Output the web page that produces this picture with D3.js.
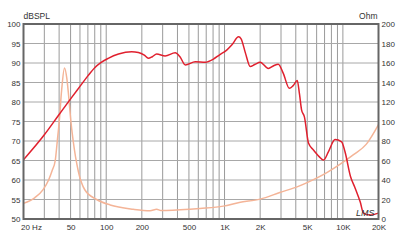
<!DOCTYPE html>
<html>
<head>
<meta charset="utf-8">
<script src="https://cdn.jsdelivr.net/npm/d3@7"></script>
<style>
  body { margin: 0; background: #fff; }
  svg { display: block; font-family: "Liberation Sans", Arial, sans-serif; }
  .tick text { fill: #333; font-size: 8px; }
</style>
</head>
<body>
<div id="chart"></div>
<script>
// SPL response (Hz, dB)
const splFreq = [20, 30, 40, 50, 60, 70, 80, 90, 104, 127, 164, 187, 210, 227, 245, 267, 315, 383, 420, 466, 566, 687, 805, 908, 1043, 1150, 1315, 1380, 1500, 1647, 1800, 2000, 2344, 2600, 2843, 3130, 3530, 3800, 4114, 4300, 4475, 4730, 5130, 5640, 6300, 6860, 7560, 8580, 9760, 10410, 11600, 12700, 14000, 14950, 17000, 20000];
const splDb = [65.2, 71.6, 76.8, 80.8, 84.0, 86.7, 88.8, 90.1, 91.2, 92.3, 92.9, 92.7, 92.0, 91.2, 91.6, 92.3, 91.8, 92.6, 91.6, 89.5, 90.3, 90.2, 91.0, 92.1, 93.3, 94.6, 96.7, 96.2, 92.6, 89.1, 89.6, 90.2, 88.6, 89.3, 89.7, 87.4, 83.5, 84.2, 85.5, 82.0, 78.0, 76.2, 69.4, 67.7, 66.0, 65.1, 67.3, 70.4, 69.8, 67.3, 60.9, 57.9, 54.4, 51.5, 51.0, 51.5];

// impedance (Hz, Ohm)
const impFreq = [20, 25, 29.4, 32.6, 35, 37.1, 38.6, 40.1, 42, 44.4, 46.5, 48, 50.3, 52.6, 58.1, 65.9, 83, 108, 169, 235, 267, 290, 510, 620, 977, 1330, 2000, 2930, 4300, 5200, 7320, 9430, 12300, 15800, 20000];
const impOhm = [16.0, 22.0, 30.4, 40, 50, 60, 80, 100, 132, 155, 144, 128, 100, 80, 49, 30, 20, 14.4, 10, 8.4, 10, 8.6, 10, 10.8, 13.2, 17.0, 20.4, 27.2, 34, 38.4, 47.6, 56.0, 66.0, 76.8, 96.8];

const dbTicks = [50, 55, 60, 65, 70, 75, 80, 85, 90, 95, 100];
const ohmTicks = [0, 20, 40, 60, 80, 100, 120, 140, 160, 180, 200];
const freqTicks = [20, 50, 100, 200, 500, 1000, 2000, 5000, 10000, 20000];
const freqLabels = ["20 Hz", "50", "100", "200", "500", "1K", "2K", "5K", "10K", "20K"];

const W = 400, H = 242;
const pLeft = 23.5, pRight = 378.5, pTop = 24, pBottom = 219;

const svg = d3.select("#chart").append("svg").attr("width", W).attr("height", H);

const x = d3.scaleLog().domain([20, 20000]).range([pLeft, pRight]);
const y = d3.scaleLinear().domain([50, 100]).range([pBottom, pTop]);
const yR = d3.scaleLinear().domain([0, 200]).range([pBottom, pTop]);

// vertical grid: every 1-9 step in each decade
let gridFreqs = [];
[10, 100, 1000, 10000].forEach(dec => {
  for (let m = 1; m < 10; m++) {
    const f = dec * m;
    if (f > 20 && f < 20000) gridFreqs.push(f);
  }
});
svg.append("g").selectAll("line").data(gridFreqs).enter().append("line")
  .attr("x1", d => x(d)).attr("x2", d => x(d))
  .attr("y1", pTop).attr("y2", pBottom)
  .attr("stroke", "#9a9a9a").attr("stroke-width", 1);

// horizontal grid
svg.append("g").selectAll("line").data(dbTicks.slice(1, -1)).enter().append("line")
  .attr("x1", pLeft).attr("x2", pRight)
  .attr("y1", d => y(d)).attr("y2", d => y(d))
  .attr("stroke", "#a8a8a8").attr("stroke-width", 1);

svg.append("clipPath").attr("id", "clip").append("rect")
  .attr("x", pLeft).attr("y", pTop).attr("width", pRight - pLeft).attr("height", pBottom - pTop);

const impLine = d3.line().x((d, i) => x(impFreq[i])).y(d => yR(d)).curve(d3.curveMonotoneX);
svg.append("path").datum(impOhm).attr("d", impLine)
  .attr("clip-path", "url(#clip)")
  .attr("fill", "none").attr("stroke", "#f4b497").attr("stroke-width", 1.5);

const splLine = d3.line().x((d, i) => x(splFreq[i])).y(d => y(d)).curve(d3.curveMonotoneX);
svg.append("path").datum(splDb).attr("d", splLine)
  .attr("clip-path", "url(#clip)")
  .attr("fill", "none").attr("stroke", "#e0202e").attr("stroke-width", 1.5);

// frame
svg.append("rect").attr("x", pLeft).attr("y", pTop)
  .attr("width", pRight - pLeft).attr("height", pBottom - pTop)
  .attr("fill", "none").attr("stroke", "#666").attr("stroke-width", 2);

// axes labels
const gL = svg.append("g").attr("transform", `translate(${pLeft - 1},0)`)
  .call(d3.axisLeft(y).tickValues(dbTicks).tickSize(0).tickPadding(2));
const gR = svg.append("g").attr("transform", `translate(${pRight + 1},0)`)
  .call(d3.axisRight(yR).tickValues(ohmTicks).tickSize(0).tickPadding(2));
const gB = svg.append("g").attr("transform", `translate(0,${pBottom + 1})`)
  .call(d3.axisBottom(x).tickValues(freqTicks).tickSize(0).tickPadding(4)
    .tickFormat((d, i) => freqLabels[i]));
[gL, gR, gB].forEach(g => g.select(".domain").remove());
gB.selectAll(".tick text").filter(d => d === 20)
  .attr("text-anchor", "start").attr("x", -3);

svg.append("text").attr("x", pLeft).attr("y", 19)
  .attr("font-size", 8.5).attr("fill", "#333").text("dBSPL");
svg.append("text").attr("x", pRight - 1).attr("y", 19).attr("text-anchor", "end")
  .attr("font-size", 8.5).attr("fill", "#333").text("Ohm");

// LMS mark
svg.append("text").attr("x", 356).attr("y", 216)
  .attr("font-size", 9).attr("font-style", "italic")
  .attr("fill", "#333").text("LMS");
</script>
</body>
</html>
